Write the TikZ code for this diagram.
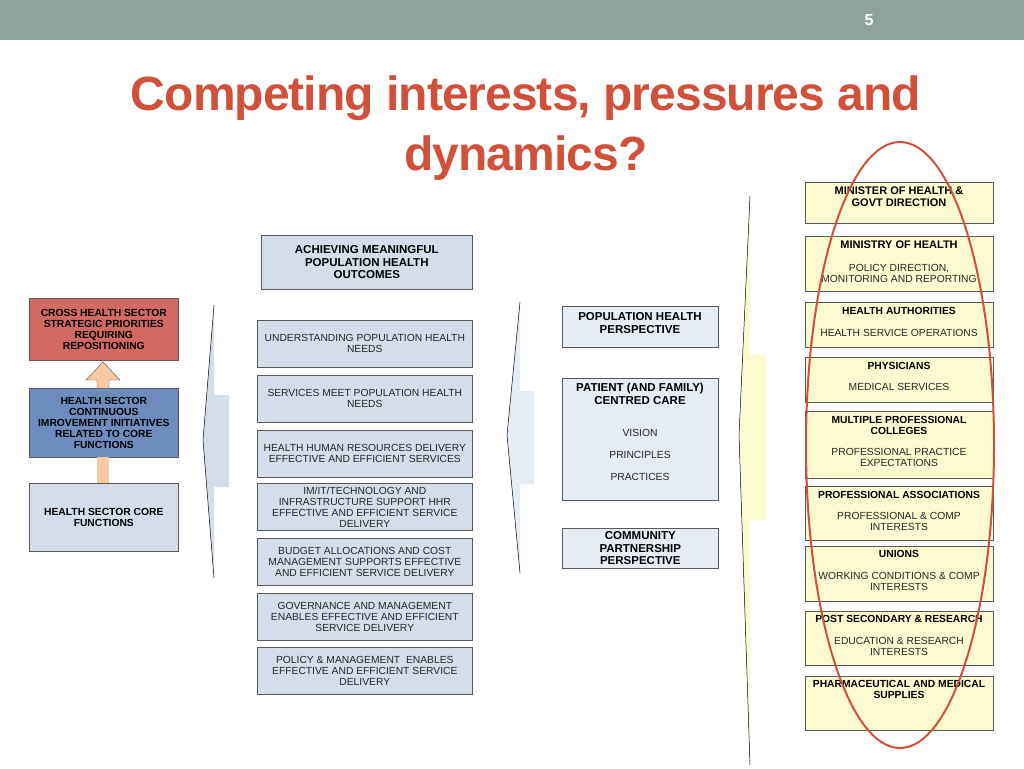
\documentclass[tikz,border=0pt]{standalone}
\usepackage{fontspec}
\setmainfont{Liberation Sans}
\begin{document}
\begin{tikzpicture}[x=1pt,y=-1pt,
  bx/.style={draw=gray!70!black,line width=0.6pt,fill=#1,align=center,font=\fontsize{10.3}{11}\selectfont,inner sep=0pt},
  bx/.default={blue!8},
  hd/.style={font=\bfseries\fontsize{10.3}{11}\selectfont,align=center},
  tx/.style={font=\fontsize{10.3}{11}\selectfont,align=center,text=black!85},
  brace/.style={fill=#1,draw=none}]
\useasboundingbox (0,0) rectangle (1024,768);
\definecolor{hdr}{HTML}{8FA39A}
\definecolor{ttl}{HTML}{D0503A}
\definecolor{lb}{HTML}{D3DEEA}
\definecolor{lb2}{HTML}{E6ECF4}
\definecolor{yl}{HTML}{FCFBD0}
\definecolor{rd}{HTML}{D26A63}
\definecolor{db}{HTML}{6E8DBE}
\definecolor{org}{HTML}{FAC9A2}
\fill[hdr] (0,0) rectangle (1024,40);
\node[text=white,font=\bfseries\fontsize{16}{18}\selectfont] (pg) at (869,20) {5};
\node[text=ttl,font=\bfseries\fontsize{48}{60}\selectfont,align=center] (title) at (526,128) {\addfontfeature{LetterSpace=-2}Competing interests, pressures and\\\addfontfeature{LetterSpace=-2}dynamics?};
% left column
\node[bx=rd,minimum width=149,minimum height=62,anchor=north west,hd] (l1) at (29,298) {CROSS HEALTH SECTOR\\STRATEGIC PRIORITIES\\REQUIRING\\REPOSITIONING};
\node[bx=db,minimum width=149,minimum height=69,anchor=north west,hd] (l2) at (29,388) {HEALTH SECTOR\\CONTINUOUS\\IMROVEMENT INITIATIVES\\RELATED TO CORE\\FUNCTIONS};
\node[bx=lb,minimum width=149,minimum height=68,anchor=north west,hd] (l3) at (29,483) {HEALTH SECTOR CORE\\FUNCTIONS};
\fill[org,draw=gray!60!black,line width=0.4pt] (97,388) -- (97,380) -- (86,380) -- (103,362) -- (120,380) -- (109,380) -- (109,388);
\fill[org] (97,457.4) rectangle (109,482.6);
% braces
\draw[brace=lb] (214,305) -- (214,395) -- (229,395) -- (229,487) -- (214,487) -- (214,578) -- (203,440) -- cycle;
\draw[line width=0.5pt] (214,305) -- (203,440) -- (214,578);
\draw[brace=lb2] (520,302) -- (520,391) -- (534,391) -- (534,484) -- (520,484) -- (520,573) -- (507,435) -- cycle;
\draw[line width=0.5pt] (520,302) -- (507,435) -- (520,573);
\draw[brace=yl] (750,196) -- (750,355) -- (766,355) -- (766,520) -- (750,520) -- (750,765) -- (739,435) -- cycle;
\draw[line width=0.5pt] (750,196) -- (739,435) -- (750,765);
% middle column
\node[bx=lb,minimum width=211,minimum height=54,anchor=north west,hd,font=\bfseries\fontsize{11.5}{12.5}\selectfont] (m0) at (261,235) {ACHIEVING MEANINGFUL\\POPULATION HEALTH\\OUTCOMES};
\foreach \n/\y/\t in {m1/320/{UNDERSTANDING POPULATION HEALTH\\NEEDS},
  m2/375/{SERVICES MEET POPULATION HEALTH\\NEEDS},
  m3/430/{HEALTH HUMAN RESOURCES DELIVERY\\EFFECTIVE AND EFFICIENT SERVICES},
  m4/483/{IM/IT/TECHNOLOGY AND\\INFRASTRUCTURE SUPPORT HHR\\EFFECTIVE AND EFFICIENT SERVICE\\DELIVERY},
  m5/538/{BUDGET ALLOCATIONS AND COST\\MANAGEMENT SUPPORTS EFFECTIVE\\AND EFFICIENT SERVICE DELIVERY},
  m6/593/{GOVERNANCE AND MANAGEMENT\\ENABLES EFFECTIVE AND EFFICIENT\\SERVICE DELIVERY},
  m7/647/{POLICY \& MANAGEMENT\ \ ENABLES\\EFFECTIVE AND EFFICIENT SERVICE\\DELIVERY}}
  \node[bx=lb,minimum width=215,minimum height=47,anchor=north west,text=black!85] (\n) at (257,\y) {\t};
% third column
\node[bx=lb2,minimum width=156,minimum height=41,anchor=north west] (p1) at (562,306) {};
\node[hd,anchor=north,font=\bfseries\fontsize{11.5}{12.5}\selectfont] at (640,309) {POPULATION HEALTH\\PERSPECTIVE};
\node[bx=lb2,minimum width=156,minimum height=122,anchor=north west] (p2) at (562,378) {};
\node[hd,anchor=north,font=\bfseries\fontsize{11.5}{12.5}\selectfont] at (640,380) {PATIENT (AND FAMILY)\\CENTRED CARE};
\node[tx] at (640,433) {VISION};
\node[tx] at (640,455) {PRINCIPLES};
\node[tx] at (640,477) {PRACTICES};
\node[bx=lb2,minimum width=156,minimum height=40,anchor=north west,hd,font=\bfseries\fontsize{11.5}{12.5}\selectfont] (p3) at (562,528) {COMMUNITY\\PARTNERSHIP\\PERSPECTIVE};
% right column
\foreach \n/\a/\b in {r1/182/223,r2/236/291,r3/302/347,r4/357/402,r5/411/478,r6/486/540,r7/546/601,r8/611/665,r9/676/730}
  \draw[fill=yl,draw=gray!70!black,line width=0.6pt] (805,\a) rectangle (993,\b) coordinate (\n);
\node[hd,font=\bfseries\fontsize{11}{12}\selectfont] at (899,197) {MINISTER OF HEALTH \&\\GOVT DIRECTION};
\node[hd,font=\bfseries\fontsize{11}{12}\selectfont] at (899,245) {MINISTRY OF HEALTH};
\node[tx] at (899,273) {POLICY DIRECTION,\\MONITORING AND REPORTING};
\node[hd] at (899,311) {HEALTH AUTHORITIES};
\node[tx] at (899,333) {HEALTH SERVICE OPERATIONS};
\node[hd] at (899,366) {PHYSICIANS};
\node[tx] at (899,387) {MEDICAL SERVICES};
\node[hd] at (899,425) {MULTIPLE PROFESSIONAL\\COLLEGES};
\node[tx] at (899,457) {PROFESSIONAL PRACTICE\\EXPECTATIONS};
\node[hd] at (899,495) {PROFESSIONAL ASSOCIATIONS};
\node[tx] at (899,521) {PROFESSIONAL \& COMP\\INTERESTS};
\node[hd] at (899,554) {UNIONS};
\node[tx] at (899,581) {WORKING CONDITIONS \& COMP\\INTERESTS};
\node[hd] at (899,619) {POST SECONDARY \& RESEARCH};
\node[tx] at (899,646) {EDUCATION \& RESEARCH\\INTERESTS};
\node[hd] at (899,689) {PHARMACEUTICAL AND MEDICAL\\SUPPLIES};
\draw[ttl,line width=2pt] (900,445) ellipse [x radius=94,y radius=303];
\end{tikzpicture}
\end{document}
